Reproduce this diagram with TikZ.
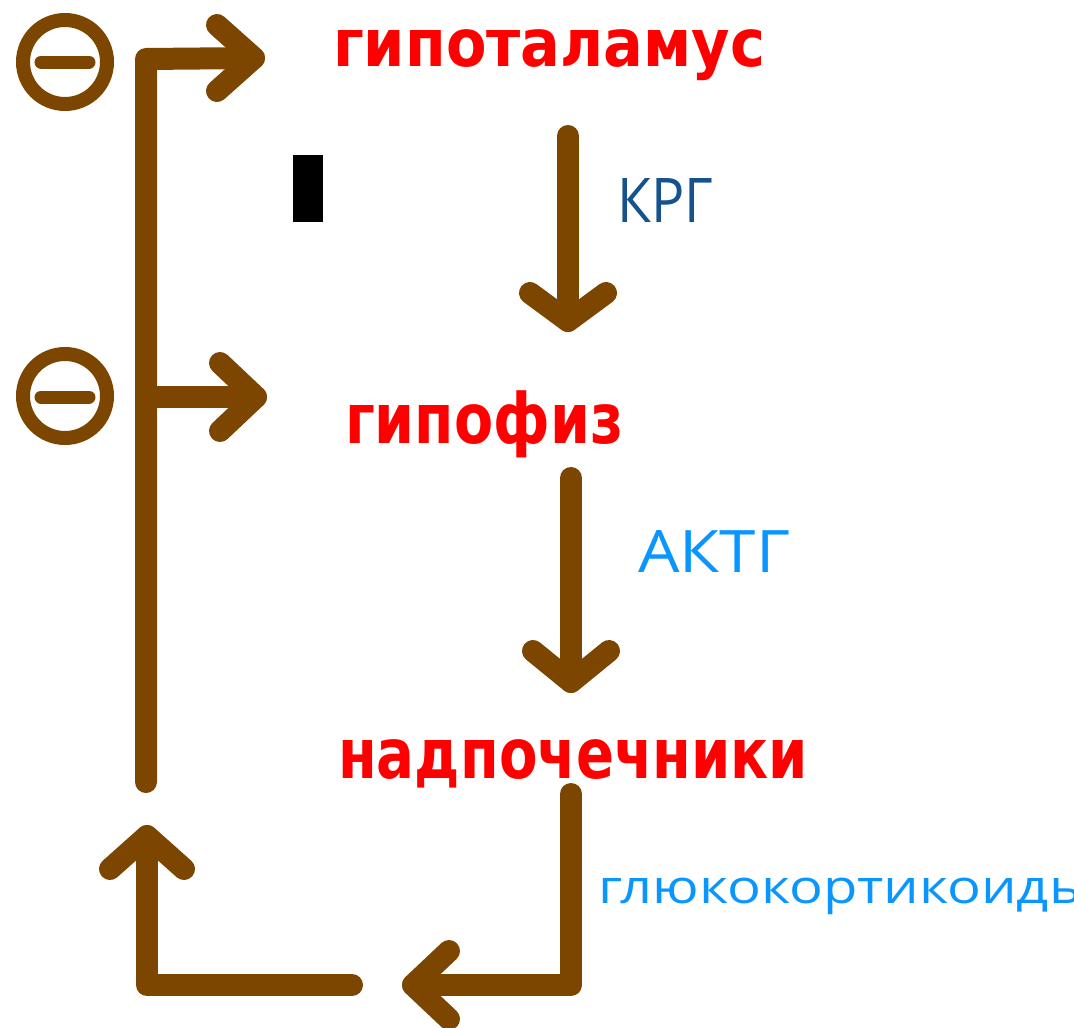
\documentclass[tikz,border=0pt]{standalone}
\usepackage{fontspec}
\usepackage{graphicx}
\setmainfont{DejaVu Sans}
\newfontfamily\bluefont{Open Sans}
\definecolor{fbbrown}{RGB}{125,70,0}
\definecolor{organred}{RGB}{255,0,0}
\definecolor{darkblue}{RGB}{22,82,140}
\definecolor{lightblue}{RGB}{10,150,255}
\newcommand\fitx[3]{\resizebox{#1}{#2}{\raisebox{0pt}[1ex][0pt]{#3}}}
\newcommand\fitc[3]{\resizebox{#1}{#2}{#3}}
\tikzset{
  fb/.style={draw=fbbrown, line width=22pt, line cap=round, line join=round},
  ring/.style={draw=fbbrown, line width=14pt},
  minusbar/.style={draw=fbbrown, line width=13pt, line cap=round},
  organ/.style={text=organred, font=\bfseries\fontsize{60}{60}\selectfont, inner sep=0pt, anchor=base west},
  hormone/.style={font=\bluefont\fontsize{40}{40}\selectfont, inner sep=0pt, anchor=base west},
}
\begin{document}
\begin{tikzpicture}[x=1pt,y=-1pt]
\useasboundingbox (0,0) rectangle (1074,1028);
\fill[white] (0,0) rectangle (1074,1028);

% organ labels
\node[organ] (hyp) at (333,66) {\fitx{432pt}{36pt}{гипоталамус}};
\node[organ] (pit) at (345,443) {\fitx{278pt}{38pt}{гипофиз}};
\node[organ] (adr) at (338,778) {\fitx{470pt}{38pt}{надпочечники}};

% hormone labels
\node[hormone, text=darkblue] (krg) at (617,222) {\fitc{96pt}{44pt}{КРГ}};
\node[hormone, text=lightblue] (actg) at (638,572) {\fitc{152pt}{42pt}{АКТГ}};
\node[hormone, text=lightblue] (gluco) at (598,903) {\fitx{494pt}{25pt}{глюкокортикоиды}};

% black mark
\fill[black] (293,155) rectangle (323,222);

% coordinates
\coordinate (krgS) at (568,136);
\coordinate (krgT) at (568,321);
\coordinate (actS) at (571,478);
\coordinate (actT) at (571,682);
\coordinate (rS) at (571,794);
\coordinate (rC) at (571,985);
\coordinate (rT) at (413,985);
\coordinate (lS) at (352,985);
\coordinate (lC) at (147,985);
\coordinate (lT) at (147,836);
\coordinate (fbBot) at (146,782);
\coordinate (fbTop) at (146,59);
\coordinate (fbMid) at (146,397);
\coordinate (tA) at (254,58);
\coordinate (tB) at (256,397);

% KRG arrow
\draw[fb] (krgS) -- (krgT);
\draw[fb] ([shift={(-38,-28)}]krgT) -- (krgT) -- ([shift={(38,-28)}]krgT);
% ACTG arrow
\draw[fb] (actS) -- (actT);
\draw[fb] ([shift={(-38,-31)}]actT) -- (actT) -- ([shift={(38,-31)}]actT);
% glucocorticoids arrow
\draw[fb] (rS) -- (rC) -- (rT);
\draw[fb] ([shift={(36,-34)}]rT) -- (rT) -- ([shift={(36,34)}]rT);
% return arrow
\draw[fb] (lS) -- (lC) -- (lT);
\draw[fb] ([shift={(-37,33)}]lT) -- (lT) -- ([shift={(37,33)}]lT);
% feedback line
\draw[fb] (fbBot) -- (fbTop) -- (tA);
\draw[fb] ([shift={(-37,-33)}]tA) -- (tA) -- ([shift={(-37,33)}]tA);
\draw[fb] (fbMid) -- (tB);
\draw[fb] ([shift={(-36,-34)}]tB) -- (tB) -- ([shift={(-36,34)}]tB);

% inhibition signs
\draw[ring] (65,62) circle[radius=42pt];
\draw[minusbar] (41,62) -- (89,62);
\draw[ring] (65,396) circle[radius=42pt];
\draw[minusbar] (41,397) -- (89,397);
\end{tikzpicture}
\end{document}
